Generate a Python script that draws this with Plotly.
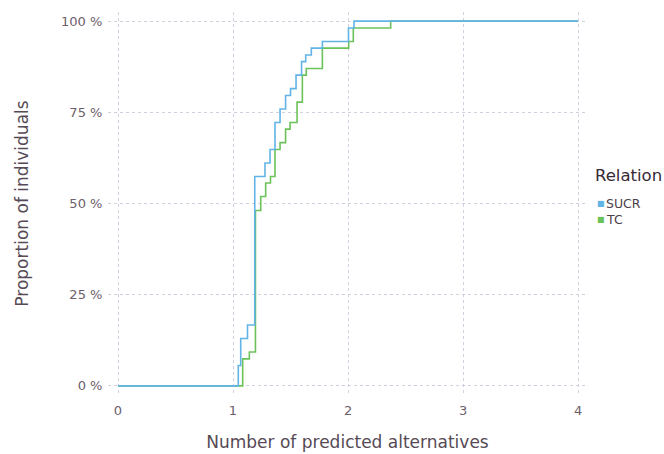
import plotly.graph_objects as go

# Empirical cumulative proportion of individuals by number of predicted alternatives
sucr_x = [0, 1.046, 1.067, 1.126, 1.189, 1.278, 1.322, 1.365, 1.409, 1.457,
          1.500, 1.548, 1.596, 1.632, 1.681, 1.777, 2.004, 2.052, 4]
sucr_pct = [0, 5.6, 13.0, 16.7, 57.4, 61.1, 64.8, 72.2, 75.9, 79.6,
            81.5, 85.2, 88.9, 90.7, 92.6, 94.4, 98.1, 100, 100]

tc_x = [0, 1.084, 1.142, 1.195, 1.241, 1.284, 1.326, 1.365, 1.409, 1.457,
        1.496, 1.557, 1.603, 1.637, 1.777, 2.006, 2.046, 2.371, 4]
tc_pct = [0, 7.4, 9.3, 48.1, 51.9, 55.6, 57.4, 64.8, 66.7, 70.4,
          72.2, 77.8, 85.2, 87.0, 92.6, 94.4, 98.1, 100, 100]

x_ticks = [0, 1, 2, 3, 4]
y_ticks = [0, 25, 50, 75, 100]
y_tick_labels = ["0 %", "25 %", "50 %", "75 %", "100 %"]

relations = ["SUCR", "TC"]
colors = {"SUCR": "#62b4e6", "TC": "#6cc25a"}

FONT = "DejaVu Sans"

fig = go.Figure()
fig.add_trace(go.Scatter(x=tc_x, y=tc_pct, mode="lines", line_shape="hv",
                         line=dict(color=colors["TC"], width=1.6), name="TC"))
fig.add_trace(go.Scatter(x=sucr_x, y=sucr_pct, mode="lines", line_shape="hv",
                         line=dict(color=colors["SUCR"], width=1.6), name="SUCR"))

grid = dict(showgrid=True, gridcolor="#D0D0E0", gridwidth=1, griddash="3px,3px",
            zeroline=False, showline=False)

fig.update_xaxes(range=[-0.087, 4.078], tickvals=x_ticks,
                 ticks="outside", ticklen=3, tickcolor="rgba(0,0,0,0)",
                 tickfont=dict(family=FONT, size=13, color="#6C606B"),
                 title=dict(text="Number of predicted alternatives", standoff=19,
                            font=dict(family=FONT, size=17, color="#564A55")),
                 **grid)
fig.update_yaxes(range=[-2.5, 102.5], tickvals=y_ticks, ticktext=y_tick_labels,
                 ticks="outside", ticklen=2, tickcolor="rgba(0,0,0,0)",
                 tickfont=dict(family=FONT, size=13, color="#6C606B"),
                 title=dict(text="Proportion of individuals", standoff=28,
                            font=dict(family=FONT, size=17, color="#564A55")),
                 **grid)

# Key: title plus a coloured square per relation
annotations = [dict(x=1.0125, y=0.574, xref="paper", yref="paper", xanchor="left",
                    yanchor="middle", showarrow=False, text="Relation",
                    font=dict(family=FONT, size=16.5, color="#362A35"))]
key_y = [0.4987, 0.4595]
for name, ky in zip(relations, key_y):
    annotations.append(dict(x=1.0165, y=ky, xref="paper", yref="paper", xanchor="left",
                            yanchor="middle", showarrow=False,
                            text=f'<span style="color:{colors[name]}">■</span>',
                            font=dict(family=FONT, size=8)))
    annotations.append(dict(x=1.036, y=ky, xref="paper", yref="paper", xanchor="left",
                            yanchor="middle", showarrow=False, text=name,
                            font=dict(family=FONT, size=12.5, color="#4C404B")))

fig.update_layout(width=664, height=454, margin=dict(l=108, r=77, t=12, b=59, autoexpand=False),
                  plot_bgcolor="white", paper_bgcolor="white", showlegend=False,
                  font=dict(family=FONT), annotations=annotations)

fig.write_html("out.html")
